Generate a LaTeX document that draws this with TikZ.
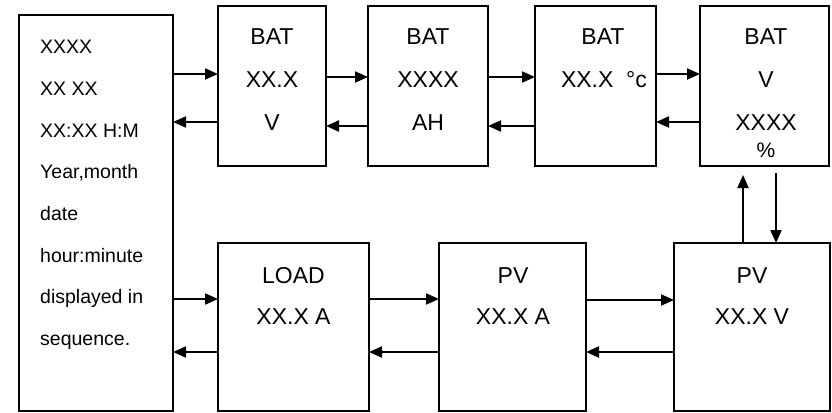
\documentclass[tikz,border=0pt]{standalone}
\usepackage{fontspec}
\setmainfont{Liberation Sans}
\usetikzlibrary{arrows.meta}
\begin{document}
\begin{tikzpicture}[x=1pt,y=-1pt,
  box/.style={draw, line width=1.4pt, inner sep=0pt, outer sep=0pt},
  arr/.style={line width=1.9pt, -{Triangle[length=13pt,width=11pt]}},
  lt/.style={font=\fontsize{19.5}{20}\selectfont, anchor=base west, inner sep=0pt},
  bt/.style={font=\fontsize{23}{24}\selectfont, anchor=base, inner sep=0pt}]
\useasboundingbox[fill=white] (0,0) rectangle (832,412);
% boxes
\node[box, minimum width=154pt, minimum height=396pt] (L) at (96,213) {};
\node[box, minimum width=108pt, minimum height=160pt] (B1) at (272,86) {};
\node[box, minimum width=120pt, minimum height=160pt] (B2) at (428,86) {};
\node[box, minimum width=121pt, minimum height=160pt] (B3) at (595.5,86) {};
\node[box, minimum width=129pt, minimum height=160pt] (B4) at (764.5,86) {};
\node[box, minimum width=151pt, minimum height=168pt] (LD) at (293.5,327) {};
\node[box, minimum width=147pt, minimum height=168pt] (P1) at (512.5,327) {};
\node[box, minimum width=156pt, minimum height=168pt] (P2) at (752,327) {};
% left text
\node[lt] (t1) at (40,54) {XXXX};
\node[lt] (t2) at (40,95.6) {XX XX};
\node[lt] (t3) at (40,137.2) {XX:XX H:M};
\node[lt] (t4) at (40,178.8) {Year,month};
\node[lt] (t5) at (40,220.4) {date};
\node[lt] (t6) at (40,262) {hour:minute};
\node[lt] (t7) at (40,303.6) {displayed in};
\node[lt] (t8) at (40,345.2) {sequence.};
% BAT texts
\node[bt] (b1a) at (272,45) {BAT};
\node[bt] (b1b) at (272,88) {XX.X};
\node[bt] (b1c) at (272,130) {V};
\node[bt] (b2a) at (428,45) {BAT};
\node[bt] (b2b) at (428,88) {XXXX};
\node[bt] (b2c) at (428,130) {AH};
\node[bt] (b3a) at (603,45) {BAT};
\node[bt] (b3b) at (604,88) {XX.X\ \ °c};
\node[bt] (b4a) at (766,45) {BAT};
\node[bt] (b4b) at (766,88) {V};
\node[bt] (b4c) at (766,130) {XXXX};
\node[bt, font=\fontsize{21}{22}\selectfont] (b4d) at (766,157) {\%};
% bottom texts
\node[bt] (l1) at (293.5,283) {LOAD};
\node[bt] (l2) at (293.5,324) {XX.X A};
\node[bt] (p1a) at (513,283) {PV};
\node[bt] (p1b) at (513,324) {XX.X A};
\node[bt] (p2a) at (752,283) {PV};
\node[bt] (p2b) at (752,324) {XX.X V};
% top arrows
\draw[arr] (L.east |- 0,74) -- (B1.west |- 0,74);
\draw[arr] (B1.west |- 0,122) -- (L.east |- 0,122);
\draw[arr] (B1.east |- 0,77) -- (B2.west |- 0,77);
\draw[arr] (B2.west |- 0,126) -- (B1.east |- 0,126);
\draw[arr] (B2.east |- 0,77) -- (B3.west |- 0,77);
\draw[arr] (B3.west |- 0,126) -- (B2.east |- 0,126);
\draw[arr] (B3.east |- 0,74) -- (B4.west |- 0,74);
\draw[arr] (B4.west |- 0,122) -- (B3.east |- 0,122);
% vertical arrows
\draw[arr, shorten >=9pt] (P2.north -| 743,0) -- (B4.south -| 743,0);
\draw[arr, shorten <=7pt] (B4.south -| 776,0) -- (P2.north -| 776,0);
% bottom arrows
\draw[arr] (L.east |- 0,299) -- (LD.west |- 0,299);
\draw[arr] (LD.west |- 0,352) -- (L.east |- 0,352);
\draw[arr] (LD.east |- 0,299) -- (P1.west |- 0,299);
\draw[arr] (P1.west |- 0,352) -- (LD.east |- 0,352);
\draw[arr] (P1.east |- 0,300) -- (P2.west |- 0,300);
\draw[arr] (P2.west |- 0,352) -- (P1.east |- 0,352);
\end{tikzpicture}
\end{document}
